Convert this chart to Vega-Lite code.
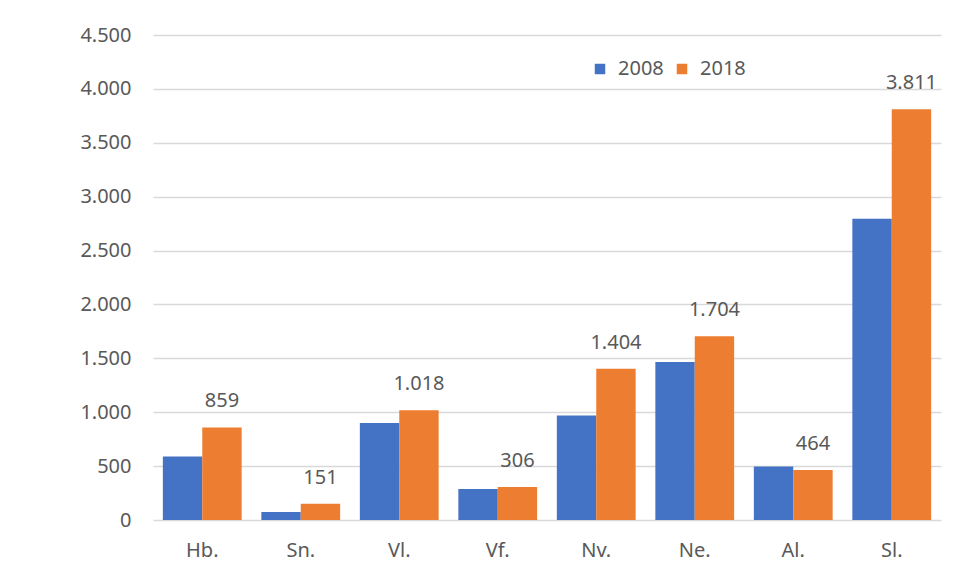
{
  "$schema": "https://vega.github.io/schema/vega-lite/v6.json",
  "width": 788,
  "height": 485,
  "autosize": {"type": "none"},
  "padding": {"left": 153, "top": 35, "right": 36, "bottom": 56},
  "background": "white",
  "config": {
    "locale": {"number": {"decimal": ",", "thousands": ".", "grouping": [3], "currency": ["", " €"]}},
    "view": {"stroke": null},
    "font": "Noto Sans"
  },
  "data": {
    "values": [
      {"region": "Hb.", "year": "2008", "value": 590},
      {"region": "Hb.", "year": "2018", "value": 859},
      {"region": "Sn.", "year": "2008", "value": 74},
      {"region": "Sn.", "year": "2018", "value": 151},
      {"region": "Vl.", "year": "2008", "value": 900},
      {"region": "Vl.", "year": "2018", "value": 1018},
      {"region": "Vf.", "year": "2008", "value": 288},
      {"region": "Vf.", "year": "2018", "value": 306},
      {"region": "Nv.", "year": "2008", "value": 970},
      {"region": "Nv.", "year": "2018", "value": 1404},
      {"region": "Ne.", "year": "2008", "value": 1466},
      {"region": "Ne.", "year": "2018", "value": 1704},
      {"region": "Al.", "year": "2008", "value": 497},
      {"region": "Al.", "year": "2018", "value": 464},
      {"region": "Sl.", "year": "2008", "value": 2795},
      {"region": "Sl.", "year": "2018", "value": 3811}
    ]
  },
  "encoding": {
    "x": {
      "field": "region",
      "type": "nominal",
      "sort": null,
      "scale": {"paddingInner": 0.2, "paddingOuter": 0.1},
      "axis": {
        "title": null,
        "labelAngle": 0,
        "ticks": false,
        "domain": false,
        "labelPadding": 20,
        "labelFontSize": 20,
        "labelColor": "#595959"
      }
    },
    "xOffset": {"field": "year", "type": "nominal", "scale": {"domain": ["2008", "2018"], "paddingInner": 0, "paddingOuter": 0}},
    "y": {
      "field": "value",
      "type": "quantitative",
      "scale": {"domain": [0, 4500], "nice": false},
      "axis": {
        "title": null,
        "values": [0, 500, 1000, 1500, 2000, 2500, 3000, 3500, 4000, 4500],
        "format": ",.0f",
        "ticks": false,
        "domain": false,
        "labelPadding": 22,
        "labelFontSize": 20,
        "labelColor": "#595959",
        "gridColor": "#D9D9D9",
        "gridWidth": 1.5
      }
    }
  },
  "layer": [
    {
      "mark": {"type": "bar"},
      "encoding": {
        "color": {
          "field": "year",
          "type": "nominal",
          "scale": {"domain": ["2008", "2018"], "range": ["#4472C4", "#ED7D31"]},
          "legend": {
            "title": null,
            "orient": "none",
            "legendX": 437,
            "legendY": 24,
            "direction": "horizontal",
            "symbolType": "square",
            "symbolSize": 110,
            "symbolStrokeWidth": 0,
            "labelFontSize": 20,
            "labelColor": "#595959",
            "labelOffset": 8,
            "columnPadding": 8
          }
        }
      }
    },
    {
      "transform": [{"filter": "datum.year == '2018'"}],
      "mark": {"type": "text", "baseline": "bottom", "dy": -16, "fontSize": 20, "color": "#595959"},
      "encoding": {
        "text": {"field": "value", "type": "quantitative", "format": ",.0f"}
      }
    }
  ]
}
